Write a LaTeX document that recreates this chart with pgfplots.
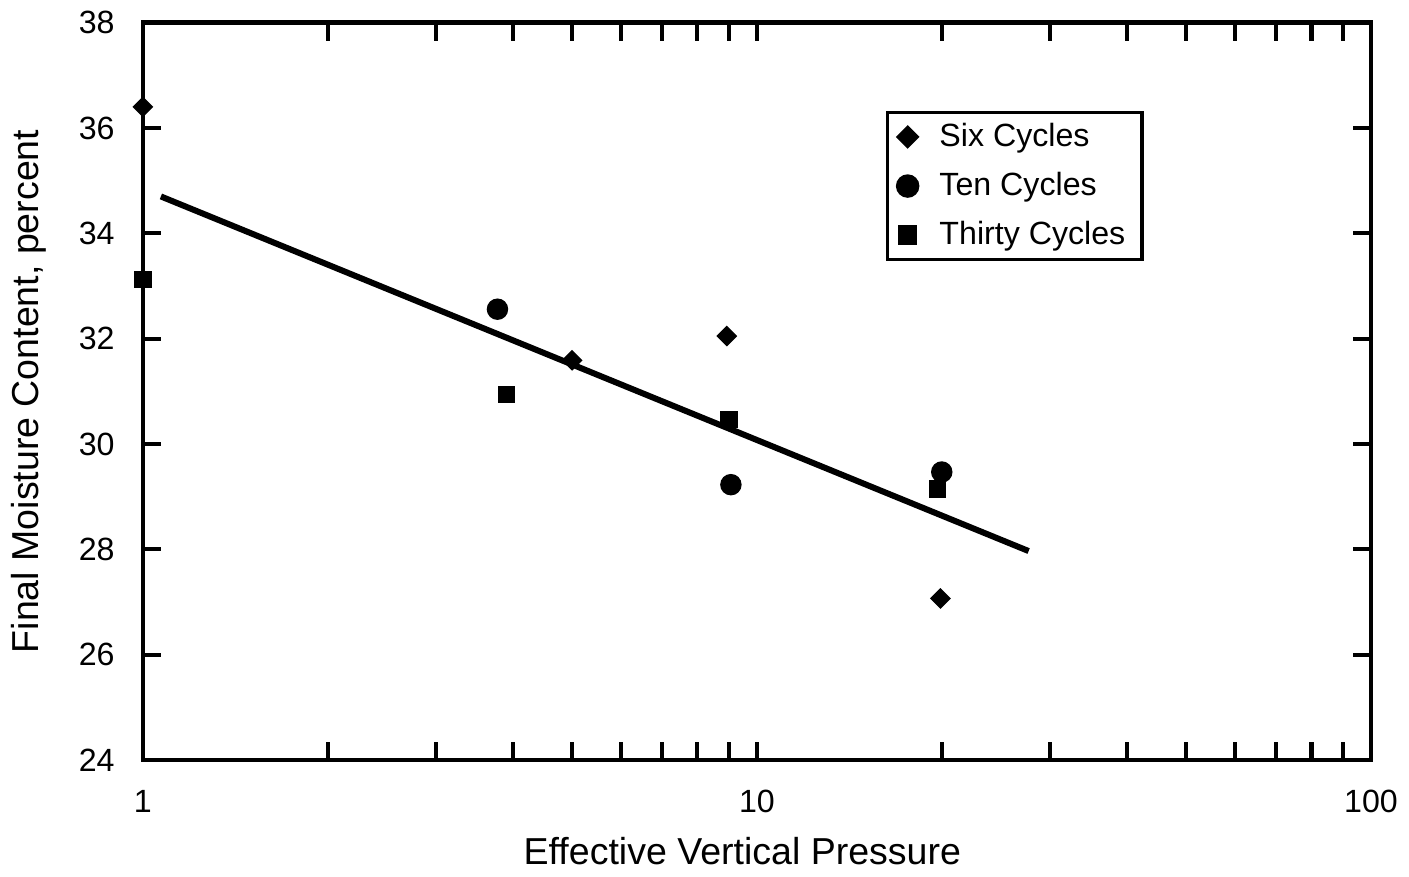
\documentclass[border=0pt]{standalone}
\usepackage{fontspec}
\setmainfont{Liberation Sans}
\usepackage{pgfplots}
\pgfplotsset{compat=1.18}
\begin{document}
\begin{tikzpicture}
\begin{axis}[
  scale only axis,
  width=366.6pt, height=220.2pt,
  xmode=log,
  xmin=1, xmax=100,
  ymin=24, ymax=38,
  ytick={24,26,...,38},
  xtick={1,10,100},
  xticklabels={1,10,100},
  /pgf/number format/assume math mode=true,
  tick align=inside,
  major tick length=5.5pt,
  minor tick length=5.5pt,
  every tick/.style={line width=1.2pt, black},
  axis line style={line width=1.3pt},
  tick label style={font=\fontsize{9.6}{11.5}\selectfont},
  xticklabel style={anchor=base, yshift=-15.5pt},
  yticklabel style={anchor=east, xshift=-4.9pt},
  xlabel={Effective Vertical Pressure},
  ylabel={Final Moisture Content, percent},
  label style={font=\fontsize{11.2}{13.5}\selectfont},
  xlabel style={at={(axis description cs:0.4881,-0.1417)}, anchor=base},
  ylabel style={at={(axis description cs:-0.0851,0.5)}, anchor=base},
  clip=false,
  legend style={at={(0.605,0.88)}, anchor=north west, draw=black, line width=1pt,
    font=\fontsize{9.6}{11.5}\selectfont, row sep=2.2pt, inner xsep=3pt, inner ysep=1pt,
    /tikz/every odd column/.append style={column sep=4.5pt}},
  legend cell align=left,
]
\addplot[only marks, mark=square*, mark options={rotate=45}, mark size=2pt, black] coordinates {
  (1,36.40) (5.0,31.59) (8.93,32.05) (19.9,27.07)
};
\addlegendentry{Six Cycles}
\addplot[only marks, mark=*, mark size=3pt, black] coordinates {
  (3.78,32.56) (9.07,29.23) (20.0,29.47)
};
\addlegendentry{Ten Cycles}
\addplot[only marks, mark=square*, mark size=2.4pt, black] coordinates {
  (1,33.12) (3.91,30.94) (9.0,30.47) (19.7,29.15)
};
\addlegendentry{Thirty Cycles}
\addplot[black, line width=1.8pt, forget plot] coordinates {(1.07,34.70) (27.7,27.97)};
\end{axis}
\end{tikzpicture}
\end{document}
